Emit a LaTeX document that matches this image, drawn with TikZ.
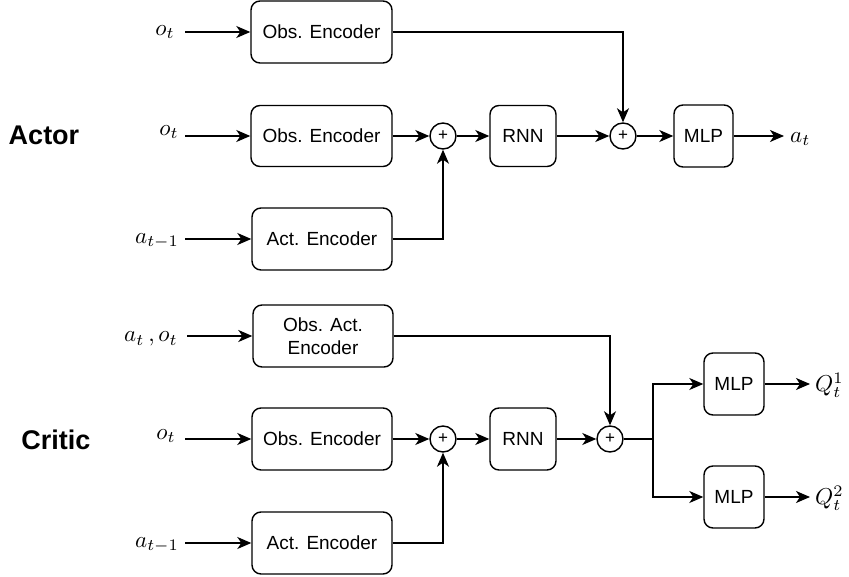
\documentclass[tikz,border=0pt]{standalone}
\usepackage{graphicx}
\usepackage{fontspec}
\newfontfamily\boxfont{Liberation Sans}
\usetikzlibrary{arrows.meta}
\newcommand{\mymath}[1]{\scalebox{2.3}{$#1$}}
\tikzset{
  blk/.style={draw, line width=1.4pt, rounded corners=9pt, font=\boxfont\fontsize{19}{22}\selectfont, align=center, inner sep=0pt},
  sumn/.style={draw, circle, line width=1.4pt, minimum size=26pt, inner sep=0pt, font=\boxfont\fontsize{17}{17}\selectfont},
  arr/.style={line width=1.6pt, -{Stealth[length=14pt,width=12pt,inset=4pt]}},
  ln/.style={line width=1.6pt},
  mlab/.style={inner sep=0pt},
  big/.style={font=\boxfont\bfseries\fontsize{27}{30}\selectfont, inner sep=0pt}
}
\begin{document}
\begin{tikzpicture}[x=1pt,y=-1pt]
\useasboundingbox (0,0) rectangle (849,577);
% ---------- Actor ----------
\node[big] (actor) at (44,135) {Actor};
\node[blk, minimum width=141pt, minimum height=62pt] (oe1) at (321.5,32) {Obs. Encoder};
\node[blk, minimum width=141pt, minimum height=61pt] (oe2) at (321.5,136) {Obs. Encoder};
\node[blk, minimum width=140pt, minimum height=62pt] (ae1) at (322,239) {Act. Encoder};
\node[sumn] (s1) at (443,136) {+};
\node[blk, minimum width=66pt, minimum height=61pt] (rnn1) at (523,136) {RNN};
\node[sumn] (s2) at (623,136) {+};
\node[blk, minimum width=59pt, minimum height=62pt] (mlp1) at (703.5,136) {MLP};

\node[mlab] (l1) at (165,32) {\mymath{o_t}};
\node[mlab] (l2) at (169,132) {\mymath{o_t}};
\node[mlab] (l3) at (157,241) {\mymath{a_{t-1}}};
\node[mlab, anchor=west] (l4) at (790,139) {\mymath{a_t}};
\coordinate (c1) at (185,32);
\coordinate (c2) at (185,136);
\coordinate (c3) at (185,239);
\coordinate (e4) at (784,136);

\draw[arr] (c1) -- (oe1.west);
\draw[arr] (c2) -- (oe2.west);
\draw[arr] (c3) -- (ae1.west);
\draw[arr] (oe2.east) -- (s1.west);
\draw[arr] (ae1.east) -| (s1.south);
\draw[arr] (s1.east) -- (rnn1.west);
\draw[arr] (rnn1.east) -- (s2.west);
\draw[arr] (oe1.east) -| (s2.north);
\draw[arr] (s2.east) -- (mlp1.west);
\draw[arr] (mlp1.east) -- (e4);

% ---------- Critic ----------
\node[big] (critic) at (56,440) {Critic};
\node[blk, minimum width=140pt, minimum height=62pt] (oae) at (323,336) {Obs. Act.\\[1pt]Encoder};
\node[blk, minimum width=140pt, minimum height=62pt] (oe3) at (322,439) {Obs. Encoder};
\node[blk, minimum width=140pt, minimum height=62pt] (ae2) at (322,543) {Act. Encoder};
\node[sumn] (s3) at (443,439) {+};
\node[blk, minimum width=66pt, minimum height=62pt] (rnn2) at (523,439) {RNN};
\node[sumn] (s4) at (610,439) {+};
\node[blk, minimum width=60pt, minimum height=62pt] (mlp2) at (734,384) {MLP};
\node[blk, minimum width=60pt, minimum height=62pt] (mlp3) at (734,497) {MLP};

\node[mlab] (l5) at (151,339) {\mymath{a_t\,,o_t}};
\node[mlab] (l6) at (166,436) {\mymath{o_t}};
\node[mlab] (l7) at (157,545) {\mymath{a_{t-1}}};
\node[mlab, anchor=west] (l8) at (815,385) {\mymath{Q_t^1}};
\node[mlab, anchor=west] (l9) at (815,498) {\mymath{Q_t^2}};
\coordinate (c5) at (187,336);
\coordinate (c6) at (185,439);
\coordinate (c7) at (185,543);
\coordinate (br) at (653,439);
\coordinate (e8) at (810,384);
\coordinate (e9) at (810,497);

\draw[arr] (c5) -- (oae.west);
\draw[arr] (c6) -- (oe3.west);
\draw[arr] (c7) -- (ae2.west);
\draw[arr] (oe3.east) -- (s3.west);
\draw[arr] (ae2.east) -| (s3.south);
\draw[arr] (s3.east) -- (rnn2.west);
\draw[arr] (rnn2.east) -- (s4.west);
\draw[arr] (oae.east) -| (s4.north);
\draw[ln] (s4.east) -- (br);
\draw[arr] (br) |- (mlp2.west);
\draw[arr] (br) |- (mlp3.west);
\draw[arr] (mlp2.east) -- (e8);
\draw[arr] (mlp3.east) -- (e9);
\end{tikzpicture}
\end{document}
